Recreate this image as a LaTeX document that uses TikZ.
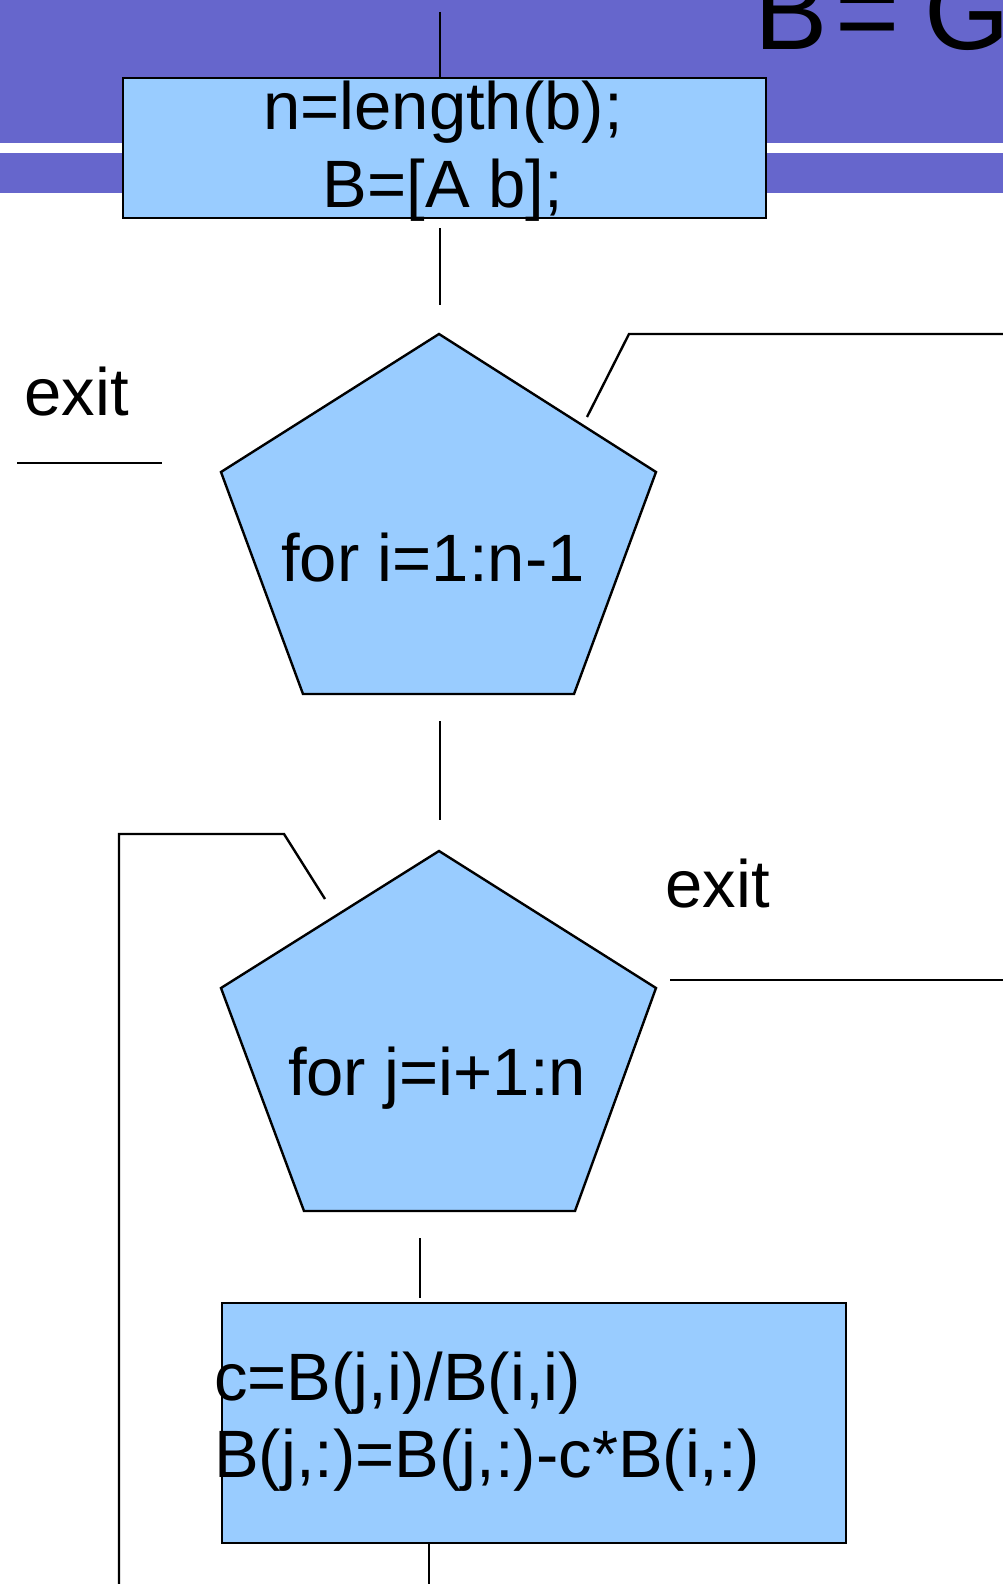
\documentclass[tikz,border=0pt]{standalone}
\usepackage{fontspec}
\setmainfont{Liberation Sans}
\definecolor{band}{HTML}{6666CC}
\definecolor{boxfill}{HTML}{99CCFF}
\begin{document}
\begin{tikzpicture}[x=1pt,y=-1pt,
  conn/.style={line width=2.4pt,draw=black},
  shapefill/.style={fill=boxfill,draw=black,line width=2.4pt,line join=miter},
  txt/.style={inner sep=0pt,font=\fontsize{67}{78}\selectfont},
]
\useasboundingbox (0,0) rectangle (1003,1584);
\fill[white] (0,0) rectangle (1003,1584);
\fill[band] (0,0) rectangle (1003,143);
\fill[band] (0,153) rectangle (1003,193);
\node[anchor=base west,inner sep=0pt,font=\fontsize{110}{120}\selectfont] (title) at (754,50) {B\kern8pt=\kern25pt G};

% first box
\node[shapefill,minimum width=643pt,minimum height=140pt,inner sep=0pt,anchor=north west] (init) at (121.5,77) {};
\node[txt,anchor=base] (initA) at (443,130) {n=length(b);};
\node[txt,anchor=base] (initB) at (443,207) {B=[A b];};
\coordinate (topin) at (440,12);
\draw[conn] (topin) -- (topin |- init.north);

% connector box -> pentagon 1
\coordinate (c1a) at (440,228);
\coordinate (c1b) at (440,305);
\draw[conn] (c1a) -- (c1b);

% pentagon 1
\coordinate (p1t) at (439,334);
\coordinate (p1r) at (656,472);
\coordinate (p1br) at (574,694);
\coordinate (p1bl) at (303,694);
\coordinate (p1l) at (221,472);
\draw[shapefill] (p1t) -- (p1r) -- (p1br) -- (p1bl) -- (p1l) -- cycle;
\node[txt,anchor=base] (loopi) at (433,581) {for i=1:n-1};

% exit left
\node[txt,anchor=base west] (exitL) at (24.5,415) {exit};
\coordinate (exL1) at (17,463);
\coordinate (exL2) at (162,463);
\draw[conn] (exL1) -- (exL2);

% return connector right of pentagon 1
\coordinate (r1a) at (587,417);
\coordinate (r1b) at (629,334);
\coordinate (r1c) at (1003,334);
\draw[conn] (r1a) -- (r1b) -- (r1c);

% connector pentagon 1 -> pentagon 2
\coordinate (c2a) at (440,721);
\coordinate (c2b) at (440,820);
\draw[conn] (c2a) -- (c2b);

% pentagon 2
\coordinate (p2t) at (439,851);
\coordinate (p2r) at (656,988);
\coordinate (p2br) at (575,1211);
\coordinate (p2bl) at (304,1211);
\coordinate (p2l) at (221,988);
\draw[shapefill] (p2t) -- (p2r) -- (p2br) -- (p2bl) -- (p2l) -- cycle;
\node[txt,anchor=base] (loopj) at (437,1095) {for j=i+1:n};

% exit right
\node[txt,anchor=base west] (exitR) at (665.5,907) {exit};
\coordinate (exR1) at (670,980);
\coordinate (exR2) at (1003,980);
\draw[conn] (exR1) -- (exR2);

% left loop connector
\coordinate (l1a) at (325,899);
\coordinate (l1b) at (284,834);
\coordinate (l1c) at (119,834);
\coordinate (l1d) at (119,1584);
\draw[conn] (l1a) -- (l1b) -- (l1c) -- (l1d);

% connector pentagon 2 -> box 3
\coordinate (c3a) at (420,1238);
\coordinate (c3b) at (420,1298);
\draw[conn] (c3a) -- (c3b);

% box 3
\node[shapefill,minimum width=624.5pt,minimum height=240pt,inner sep=0pt,anchor=north west] (elim) at (220.5,1302) {};
\node[txt,anchor=base west] (elimA) at (214,1400) {c=B(j,i)/B(i,i)};
\node[txt,anchor=base west] (elimB) at (214,1477) {B(j,:)=B(j,:)-c*B(i,:)};
\coordinate (botout) at (429,1584);
\draw[conn] (botout |- elim.south) -- (botout);
\end{tikzpicture}
\end{document}
